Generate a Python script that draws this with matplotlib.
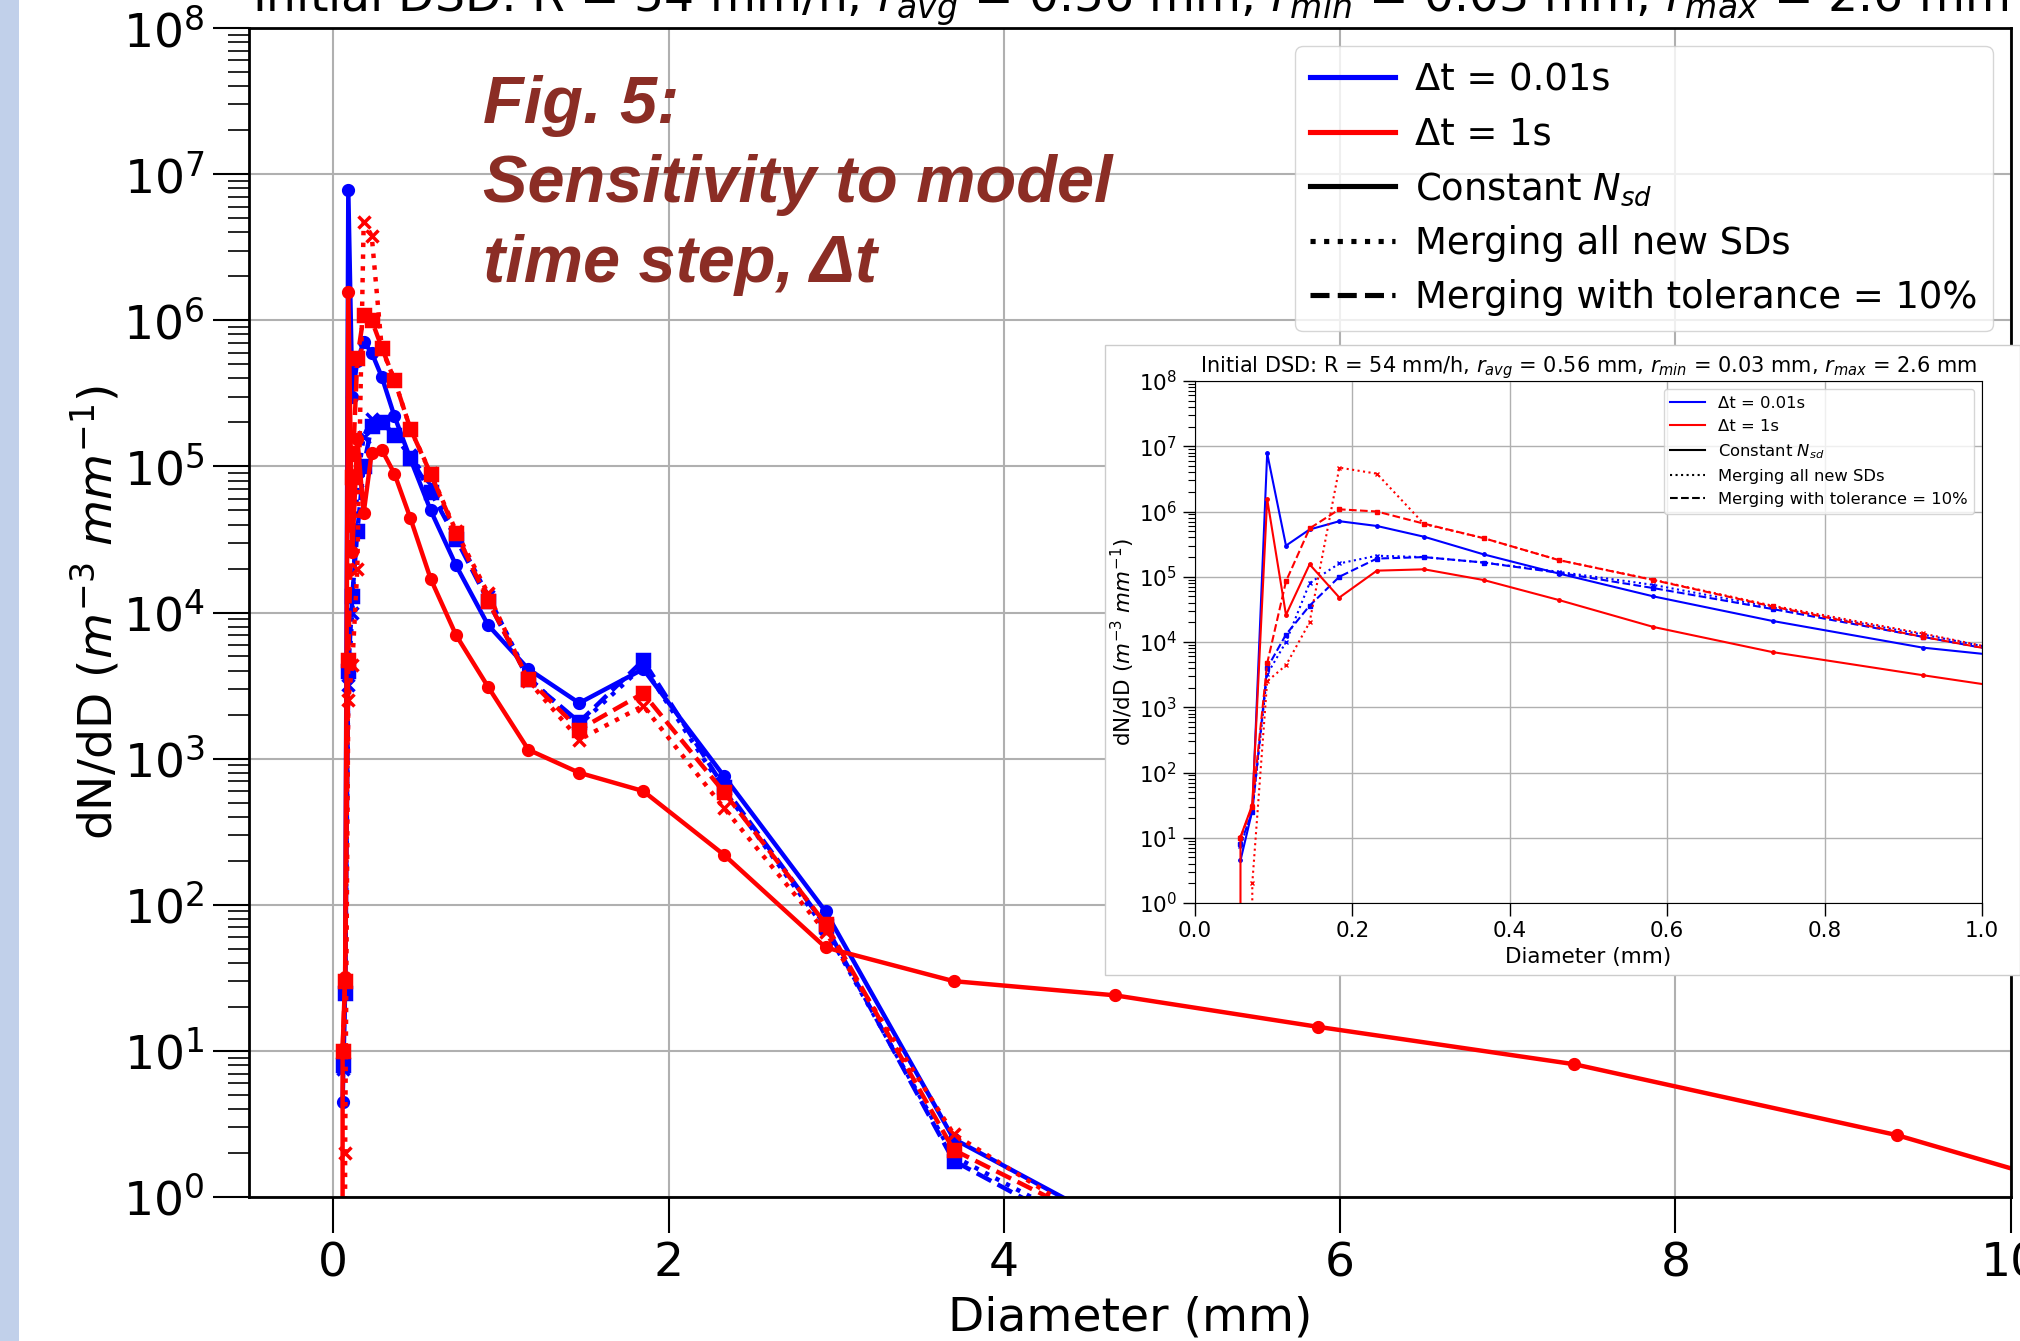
import numpy as np
import matplotlib
matplotlib.use("Agg")
import matplotlib.pyplot as plt
from matplotlib.lines import Line2D
from matplotlib.patches import Rectangle
from matplotlib.ticker import LogLocator, NullFormatter

nan = np.nan

# drop diameter bins (mm)
diam = [0.0459, 0.0578, 0.0728, 0.0917, 0.1156, 0.1456, 0.1834, 0.2311, 0.2912,
        0.3669, 0.4623, 0.5825, 0.7339, 0.9247, 1.165, 1.468, 1.849, 2.330,
        2.936, 3.699, 4.660, 5.871, 7.398, 9.321, 11.74]

# dN/dD (m^-3 mm^-1)
blue_const = [nan, 4.5, 26, 7.8e6, 3.0e5, 5.3e5, 7.1e5, 6.0e5, 4.1e5, 2.2e5, 1.12e5,
              5.0e4, 2.1e4, 8.2e3, 4.1e3, 2.4e3, 4.1e3, 760, 90, 2.5, 0.64,
              nan, nan, nan, nan]
blue_merge = [nan, 7.5, 25, 3.2e3, 1.0e4, 8.0e4, 1.6e5, 2.1e5, 2.0e5, 1.65e5, 1.19e5,
              7.5e4, 3.4e4, 1.3e4, 3.6e3, 1.7e3, 4.3e3, 610, 68, 1.9, 0.5,
              nan, nan, nan, nan]
blue_tol = [nan, 8, 25, 4.0e3, 1.3e4, 3.6e4, 1.0e5, 1.9e5, 2.0e5, 1.65e5, 1.15e5,
            6.7e4, 3.2e4, 1.2e4, 3.5e3, 1.78e3, 4.7e3, 640, 72, 1.77, 0.45,
            nan, nan, nan, nan]
red_const = [0, 10.3, 32, 1.55e6, 2.6e4, 1.55e5, 4.8e4, 1.24e5, 1.3e5, 8.9e4, 4.4e4,
             1.7e4, 7.0e3, 3.1e3, 1150, 800, 600, 220, 51, 30, 24, 14.6, 8.1, 2.65, 0.41]
red_merge = [nan, 0, 2, 2.5e3, 4.4e3, 2.0e4, 4.7e6, 3.8e6, 6.4e5, 3.9e5, 1.8e5,
             9.0e4, 3.6e4, 1.35e4, 3.4e3, 1.35e3, 2.3e3, 460, 65, 2.7, 0.55,
             nan, nan, nan, nan]
red_tol = [nan, 10, 30, 4.7e3, 8.5e4, 5.5e5, 1.08e6, 1.0e6, 6.5e5, 3.9e5, 1.8e5,
           8.9e4, 3.5e4, 1.2e4, 3.5e3, 1.58e3, 2.8e3, 590, 74, 2.1, 0.59,
           nan, nan, nan, nan]

series = [
    (blue_const, "blue", "-", "o"),
    (blue_merge, "blue", ":", "x"),
    (blue_tol, "blue", "--", "s"),
    (red_const, "red", "-", "o"),
    (red_merge, "red", ":", "x"),
    (red_tol, "red", "--", "s"),
]

legend_labels = ["Δt = 0.01s", "Δt = 1s", "Constant $N_{sd}$",
                 "Merging all new SDs", "Merging with tolerance = 10%"]
title = ("Initial DSD: R = 54 mm/h, $r_{avg}$ = 0.56 mm, "
         "$r_{min}$ = 0.03 mm, $r_{max}$ = 2.6 mm")
ylabel = "dN/dD ($m^{-3}$ $mm^{-1}$)"

W, H = 2020, 1341
fig = plt.figure(figsize=(W / 100, H / 100), dpi=100)


def px_box(left, top, right, bottom):
    return [left / W, 1 - bottom / H, (right - left) / W, (bottom - top) / H]


def legend_handles(lw):
    return [Line2D([], [], color="blue", lw=lw),
            Line2D([], [], color="red", lw=lw),
            Line2D([], [], color="black", lw=lw, ls="-"),
            Line2D([], [], color="black", lw=lw, ls=":"),
            Line2D([], [], color="black", lw=lw, ls="--")]


# slide edge strip
fig.patches.append(Rectangle((0, 0), 19 / W, 1, transform=fig.transFigure,
                             facecolor="#c1d0ea", edgecolor="none", zorder=0))

# ---- main axes ----
ax = fig.add_axes(px_box(249, 28, 2011, 1197))
for vals, col, ls, mk in series:
    ms = 7 if mk == "o" else 8
    ax.plot(diam, vals, color=col, ls=ls, marker=mk, lw=3.2, ms=ms, mew=2.5)

ax.set_yscale("log")
ax.set_ylim(1, 1e8)
ax.set_xlim(-0.5, 10)
ax.set_xticks([0, 2, 4, 6, 8, 10])
ax.yaxis.set_major_locator(LogLocator(base=10, numticks=20))
ax.yaxis.set_minor_locator(LogLocator(base=10, subs=np.arange(2, 10), numticks=20))
ax.yaxis.set_minor_formatter(NullFormatter())
ax.grid(True, which="major", color="#b0b0b0", lw=1.5)
ax.tick_params(which="major", length=26, width=1.5, labelsize=34, pad=6)
ax.tick_params(which="minor", length=15, width=1.2)
for sp in ax.spines.values():
    sp.set_linewidth(2)
ax.set_title(title, fontsize=34, pad=2)
ax.set_xlabel("Diameter (mm)", fontsize=34)
ax.set_ylabel(ylabel, fontsize=34)
ax.xaxis.set_label_coords(0.5, -0.084)
ax.yaxis.set_label_coords(-0.072, 0.5)
ax.legend(legend_handles(3.7), legend_labels, loc="upper right", fontsize=26.6,
          handlelength=2.3, handletextpad=0.55, labelspacing=0.47,
          borderaxespad=0.5)

# figure caption on the slide
cap_color = "#8B2D25"
for txt, yb in [("Fig. 5:", 123), ("Sensitivity to model", 202), ("time step, Δt", 282)]:
    fig.text(483 / W, 1 - yb / H, txt, family="Liberation Sans", weight="bold",
             style="italic", fontsize=48, color=cap_color, va="baseline",
             ha="left", zorder=10)

# ---- inset (zoom to 0-1 mm) ----
fig.patches.append(Rectangle((1105 / W, 1 - 975 / H), (2020 - 1105) / W,
                             (975 - 345) / H, transform=fig.transFigure,
                             facecolor="white", edgecolor="#cccccc", lw=1, zorder=5))
axi = fig.add_axes(px_box(1195, 381, 1982, 903), zorder=6)
for vals, col, ls, mk in series:
    axi.plot(diam, vals, color=col, ls=ls, marker=mk, lw=1.5, ms=2.5, mew=1)

axi.set_yscale("log")
axi.set_ylim(1, 1e8)
axi.set_xlim(0, 1)
axi.set_xticks([0, 0.2, 0.4, 0.6, 0.8, 1.0])
axi.yaxis.set_major_locator(LogLocator(base=10, numticks=20))
axi.yaxis.set_minor_locator(LogLocator(base=10, subs=np.arange(2, 10), numticks=20))
axi.yaxis.set_minor_formatter(NullFormatter())
axi.grid(True, which="major", color="#b0b0b0", lw=1)
axi.tick_params(which="major", length=9, width=1, labelsize=15.5, pad=4)
axi.tick_params(which="minor", length=5, width=0.8)
axi.set_title(title, fontsize=15, pad=3)
axi.set_xlabel("Diameter (mm)", fontsize=15.5)
axi.set_ylabel(ylabel, fontsize=15.5)
axi.xaxis.set_label_coords(0.5, -0.084)
axi.yaxis.set_label_coords(-0.074, 0.5)
axi.legend(legend_handles(1.5), legend_labels, loc="upper right", fontsize=11.8,
           handlelength=2.1, labelspacing=0.5, borderaxespad=0.5)

fig.savefig("out.png", dpi=100)
